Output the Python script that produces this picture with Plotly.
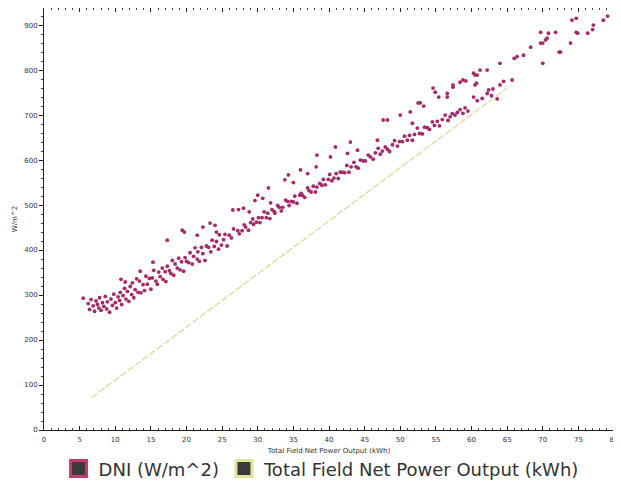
import plotly.graph_objects as go

# ---------------- data ----------------
# DNI (W/m^2) versus Total Field Net Power Output (kWh)
dni_band_start = [
    (5.5, 293), (6.2, 281), (6.4, 268), (6.6, 290), (6.9, 276), (7.1, 264), (7.3, 287),
    (7.5, 279), (7.7, 271), (7.8, 294), (8.0, 266), (8.2, 283), (8.4, 275), (8.6, 297),
    (8.8, 269), (8.9, 285), (9.2, 262), (9.4, 291), (9.6, 277), (9.8, 302), (10.0, 283),
    (10.2, 271), (10.4, 296), (10.6, 288), (10.7, 306), (10.9, 279), (11.1, 299), (11.3, 315),
    (11.5, 291), (11.7, 308), (11.9, 286), (12.1, 319), (12.3, 301), (12.4, 327), (12.6, 294),
    (12.8, 312), (13.0, 336), (10.8, 335), (11.4, 329), (13.5, 353), (15.3, 373),
]
dni_band_low = [
    (13.2, 306), (13.4, 331), (13.6, 305), (13.9, 323), (14.1, 310), (14.3, 342), (14.5, 324),
    (14.8, 337), (15.0, 313), (15.2, 338), (15.4, 355), (15.7, 331), (15.9, 324), (16.1, 351),
    (16.3, 341), (16.6, 360), (16.7, 335), (17.0, 352), (17.1, 330), (17.3, 364), (17.6, 354),
    (17.8, 348), (18.0, 377), (18.2, 344), (18.4, 369), (18.7, 360), (18.9, 382), (19.1, 356),
    (19.3, 374), (19.6, 353), (19.8, 383), (20.0, 375), (20.3, 372), (20.5, 394), (20.8, 369),
    (21.0, 386), (21.2, 405), (21.5, 380), (21.6, 396), (21.8, 375), (22.1, 406), (22.3, 392),
    (22.6, 377), (22.8, 409), (23.1, 406), (23.4, 396), (23.6, 422), (23.9, 408), (24.2, 419),
    (24.5, 402), (24.6, 434), (24.9, 411), (25.2, 423), (25.4, 435), (25.7, 409), (26.0, 433),
    (26.3, 427), (26.6, 447),
]
dni_band_mid = [
    (27.2, 443), (27.4, 436), (27.8, 443), (28.1, 456), (28.3, 451), (28.7, 444), (29.0, 461),
    (29.3, 469), (29.4, 457), (29.8, 462), (30.1, 472), (30.3, 461), (30.6, 472), (30.9, 485),
    (31.2, 472), (31.4, 482), (31.7, 470), (32.0, 490), (32.3, 486), (32.4, 482), (32.8, 499),
    (33.0, 495), (33.3, 487), (33.5, 495), (33.9, 511), (34.2, 508), (34.4, 499), (34.7, 508),
    (35.0, 507), (35.2, 520), (35.5, 504), (35.9, 522), (36.1, 526), (36.3, 521), (36.6, 517),
    (37.0, 538), (37.2, 532), (37.5, 529), (37.8, 542), (38.1, 529), (38.3, 540), (38.7, 548),
    (39.0, 544), (39.2, 557), (39.5, 545), (39.9, 557), (40.1, 568), (40.4, 554), (40.7, 560),
    (41.0, 570), (41.3, 559), (41.6, 573), (41.9, 573), (42.2, 572), (42.5, 588), (42.8, 573),
    (43.1, 585), (43.5, 595), (43.8, 585), (44.1, 582), (44.4, 600), (44.8, 598),
]
dni_band_high = [
    (45.1, 598), (45.5, 611), (45.8, 607), (46.2, 602), (46.5, 616), (46.9, 626), (47.2, 613),
    (47.5, 620), (47.9, 629), (48.2, 624), (48.5, 619), (48.9, 634), (49.2, 643), (49.6, 631),
    (49.9, 641), (50.3, 641), (50.6, 653), (51.0, 644), (51.3, 655), (51.7, 644), (52.0, 657),
    (52.4, 671), (52.7, 659), (53.1, 658), (53.4, 673), (53.8, 672), (54.1, 668), (54.5, 685),
    (54.8, 677), (55.2, 686), (55.5, 676), (55.9, 690), (56.3, 700), (56.7, 688), (57.0, 696),
    (57.3, 703), (57.7, 700), (58.0, 706), (58.4, 712), (58.8, 704), (59.1, 716), (59.5, 709),
    (60.3, 740), (60.8, 732), (61.5, 737), (62.2, 748), (62.8, 743), (63.0, 758), (63.6, 736),
]
dni_upper_scatter = [
    (17.3, 422), (19.4, 444), (19.7, 440), (21.5, 433), (22.3, 451), (23.3, 460), (24.0, 455),
    (24.2, 440), (26.5, 489), (27.3, 490), (28.0, 493), (28.8, 485), (29.6, 510), (30.0, 522),
    (30.7, 515), (31.5, 538), (31.8, 505), (33.8, 556), (34.3, 567), (35.0, 550), (36.0, 578),
    (37.0, 570), (38.2, 585), (38.3, 611), (40.2, 607), (40.9, 629), (42.6, 615), (43.0, 640),
    (44.0, 622), (46.8, 644), (47.6, 689), (48.2, 689), (50.0, 700), (51.4, 707), (51.7, 682),
    (52.5, 727), (52.8, 727), (53.3, 720), (54.6, 760), (54.9, 751), (55.4, 740), (56.6, 748),
    (56.6, 740), (57.4, 762), (57.4, 767), (58.4, 773), (58.8, 778), (59.2, 776), (60.3, 793),
    (60.5, 789), (60.7, 771), (61.2, 800), (62.2, 800),
]
dni_top_tail = [
    (60.5, 767), (60.8, 789), (62.4, 756), (64.0, 767), (64.0, 815), (64.5, 775), (65.7, 778),
    (66.0, 826), (66.4, 830), (67.3, 833), (68.3, 851), (69.7, 884), (69.7, 860), (70.0, 860),
    (70.0, 815), (70.4, 867), (70.6, 871), (70.8, 882), (71.8, 884), (72.3, 840), (72.5, 840),
    (73.9, 860), (74.1, 911), (74.7, 915), (74.7, 884), (74.9, 882), (76.3, 882), (77.0, 890),
    (77.1, 900), (78.5, 911), (79.1, 920),
]

# Total Field Net Power Output line (kWh)
power_line_x = [6.7, 65.0]
power_line_y = [72, 760]

x_ticks = list(range(0, 81, 5))
y_ticks = list(range(0, 901, 100))

# ---------------- figure ----------------
dni_all = dni_band_start + dni_band_low + dni_band_mid + dni_band_high + dni_upper_scatter + dni_top_tail
dni_x = [p[0] for p in dni_all]
dni_y = [p[1] for p in dni_all]

DNI_COLOR = "#a8296a"
LINE_COLOR = "#d8dc9c"

fig = go.Figure()
fig.add_trace(go.Scatter(
    x=power_line_x, y=power_line_y, mode="lines",
    line=dict(color=LINE_COLOR, width=1.3, dash="7px,2px"),
    showlegend=False, hoverinfo="skip",
))
fig.add_trace(go.Scatter(
    x=dni_x, y=dni_y, mode="markers",
    marker=dict(color=DNI_COLOR, size=3.8, line=dict(width=0)),
    showlegend=False,
))
# legend entries
fig.add_trace(go.Scatter(
    x=[None], y=[None], mode="markers", name="DNI (W/m^2)",
    marker=dict(symbol="square", size=16, color="#3b3b3b", line=dict(color="#c83a6e", width=3)),
))
fig.add_trace(go.Scatter(
    x=[None], y=[None], mode="markers", name="Total Field Net Power Output (kWh)",
    marker=dict(symbol="square", size=16, color="#3b3b3b", line=dict(color="#dfe59a", width=3)),
))

axis_common = dict(
    showgrid=False, zeroline=False, showline=True, linecolor="#222", linewidth=1,
    mirror="ticks", ticklen=4, tickcolor="#222",
    tickfont=dict(family="DejaVu Sans", size=7, color="#333"),
    ticklabeloverflow="allow", automargin=False,
)

fig.update_xaxes(
    range=[0, 80], tickvals=x_ticks, ticks="inside", ticklabelstandoff=3, **axis_common,
    title=dict(text="Total Field Net Power Output (kWh)", font=dict(family="DejaVu Sans", size=7, color="#333"), standoff=4),
    minor=dict(ticks="inside", ticklen=2, tickcolor="#444", dtick=1),
)
fig.update_yaxes(
    range=[0, 938], tickvals=y_ticks, ticks="outside", **axis_common,
    title=dict(text="W/m^2", font=dict(family="DejaVu Sans", size=7, color="#333"), standoff=5),
    minor=dict(ticks="outside", ticklen=2, tickcolor="#444", dtick=20),
)

# the page body has an 8px margin, so the figure is sized to fit the 621x488 window
fig.update_layout(
    template="none",
    width=613, height=480,
    margin=dict(l=36, r=7, t=0, b=58),
    paper_bgcolor="white", plot_bgcolor="white",
    legend=dict(
        orientation="h", x=0.487, xanchor="center", y=-0.092, yanchor="middle",
        font=dict(family="DejaVu Sans", size=18, color="#333"),
        itemwidth=30, tracegroupgap=0, bgcolor="rgba(0,0,0,0)",
    ),
)

fig.write_html("out.html")
